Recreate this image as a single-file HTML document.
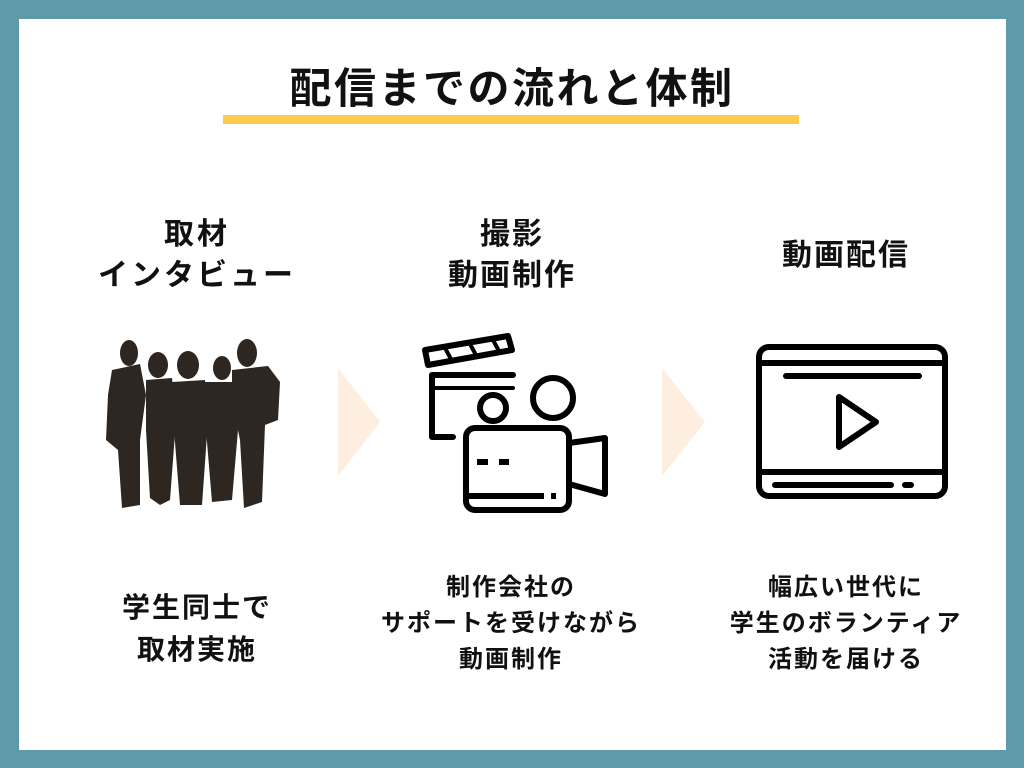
<!DOCTYPE html>
<html><head><meta charset="utf-8"><style>
html,body{margin:0;padding:0}
body{width:1024px;height:768px;background:#5f9aab;position:relative;overflow:hidden;font-family:"Liberation Sans","Noto Sans CJK JP",sans-serif;font-weight:bold;color:#111}
.inner{position:absolute;left:19px;top:19px;width:987px;height:731px;background:#fff}
.t{position:absolute;text-align:center;white-space:nowrap;transform:translateX(-50%)}
</style></head><body>
<div class="inner"></div>
<div class="t" style="left:512px;top:63px;font-size:42px;line-height:52px;letter-spacing:2.5px">配信までの流れと体制</div>
<div style="position:absolute;left:223px;top:115px;width:576px;height:9px;background:#ffc94a"></div>

<div class="t" style="left:197px;top:214px;font-size:30px;line-height:41px;letter-spacing:3px">取材<br>インタビュー</div>
<div class="t" style="left:512px;top:214px;font-size:30px;line-height:41px;letter-spacing:2px">撮影<br>動画制作</div>
<div class="t" style="left:846px;top:235px;font-size:30px;line-height:41px;letter-spacing:2px">動画配信</div>

<div class="t" style="left:197px;top:587px;font-size:28px;line-height:42px;letter-spacing:2px">学生同士で<br>取材実施</div>
<div class="t" style="left:511px;top:570px;font-size:24px;line-height:36px;letter-spacing:2px">制作会社の<br>サポートを受けながら<br>動画制作</div>
<div class="t" style="left:846px;top:570px;font-size:24px;line-height:36px;letter-spacing:2px">幅広い世代に<br>学生のボランティア<br>活動を届ける</div>

<svg width="1024" height="768" style="position:absolute;left:0;top:0">
<polygon points="338,368 380,422 338,476" fill="#fdeee0"/>
<polygon points="662,368 705,422 662,476" fill="#fdeee0"/>
<g fill="#2e2620">
 <ellipse cx="129" cy="353" rx="9" ry="13"/><path d="M112,370 L140,364 L146,395 L140,440 L140,505 L122,508 L118,450 L106,440 L108,395 Z"/>
 <ellipse cx="158" cy="365" rx="10" ry="13"/><path d="M146,380 L172,378 L176,420 L170,500 L160,505 L150,498 L146,430 Z"/>
 <ellipse cx="188" cy="365" rx="11" ry="14"/><path d="M172,382 L205,380 L208,420 L202,505 L180,505 L174,430 Z"/>
 <ellipse cx="222" cy="368" rx="9" ry="12"/><path d="M205,382 L236,382 L238,430 L232,500 L212,502 L206,430 Z"/>
 <ellipse cx="247" cy="353" rx="10" ry="14"/><path d="M232,370 L268,366 L280,382 L278,420 L265,425 L262,502 L244,508 L240,440 L232,400 Z"/>
</g>
<g fill="none" stroke="#000" stroke-width="6" stroke-linejoin="round" stroke-linecap="round">
 <polygon points="425,350 508,336 512,350 428,365" />
 <path d="M445,348 L452,361 M470,344 L477,357 M493,340 L500,353" stroke-width="4"/>
 <path d="M513,375 L432,375 L432,437 L453,437"/>
 <path d="M432,388 L513,388" stroke-width="4"/>
 <circle cx="493" cy="408" r="13"/>
 <circle cx="553" cy="398" r="20"/>
 <rect x="466" y="428" width="103" height="82" rx="9"/>
 <polygon points="569,443 605,438 605,494 569,484"/>
 <path d="M477,462 L488,462 M499,462 L509,462" stroke-linecap="butt"/>
 <path d="M469,496 L544,496 M551,496 L556,496" stroke-linecap="butt"/>
 <rect x="759" y="347" width="186" height="149" rx="10"/>
 <path d="M760,363 L944,363 M760,472 L944,472"/>
 <path d="M786,376 L919,376 M775,485 L891,485 M905,485 L911,485"/>
 <polygon points="839,397 876,422 839,447"/>
</g>
</svg>
</body></html>
